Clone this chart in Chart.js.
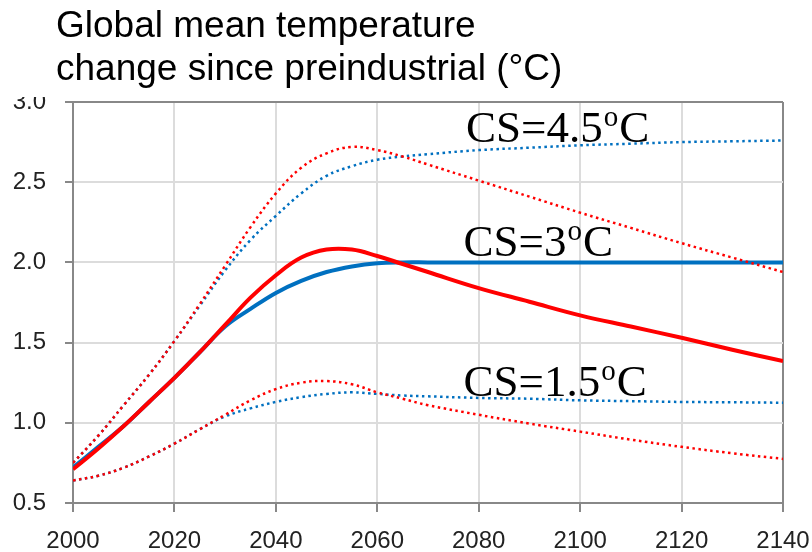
<!DOCTYPE html>
<html>
<head>
<meta charset="utf-8">
<script src="https://cdn.jsdelivr.net/npm/chart.js@4.4.1/dist/chart.umd.min.js"></script>
<style>
  body { margin: 0; background: #fff; }
  #chart { display: block; }
</style>
</head>
<body>
<canvas id="chart" width="812" height="552"></canvas>
<script>
const years = [2000, 2005, 2010, 2015, 2020, 2025, 2030, 2035, 2040, 2045, 2050, 2055,
  2060, 2065, 2070, 2080, 2090, 2100, 2110, 2120, 2130, 2140];

// CS = 3 (solid)
const redMid = [0.71, 0.84, 0.98, 1.13, 1.28, 1.44, 1.61, 1.78, 1.92, 2.03, 2.08, 2.08,
  2.04, 1.99, 1.94, 1.84, 1.755, 1.67, 1.60, 1.53, 1.455, 1.385];
const blueMid = [0.72, 0.85, 0.98, 1.13, 1.28, 1.44, 1.60, 1.71, 1.81, 1.885, 1.94, 1.975,
  1.995, 2.0, 2.0, 2.0, 2.0, 2.0, 2.0, 2.0, 2.0, 2.0];

// CS = 4.5 (dotted, upper)
const redHigh = [0.75, 0.92, 1.11, 1.30, 1.51, 1.74, 1.98, 2.22, 2.43, 2.59, 2.68, 2.72,
  2.70, 2.66, 2.61, 2.51, 2.41, 2.31, 2.215, 2.12, 2.03, 1.94];
const blueHigh = [0.75, 0.92, 1.11, 1.30, 1.51, 1.73, 1.95, 2.14, 2.29, 2.43, 2.54, 2.60,
  2.64, 2.66, 2.675, 2.70, 2.715, 2.73, 2.74, 2.75, 2.755, 2.76];

// CS = 1.5 (dotted, lower)
const redLow = [0.64, 0.67, 0.72, 0.79, 0.87, 0.96, 1.05, 1.14, 1.21, 1.25, 1.26, 1.24,
  1.19, 1.15, 1.11, 1.05, 0.995, 0.945, 0.895, 0.85, 0.81, 0.775];
const blueLow = [0.64, 0.67, 0.72, 0.79, 0.87, 0.96, 1.04, 1.09, 1.13, 1.16, 1.18, 1.19,
  1.18, 1.17, 1.165, 1.155, 1.15, 1.14, 1.135, 1.13, 1.128, 1.125];

const titleLines = ['Global mean temperature', 'change since preindustrial (\u00B0C)'];

// in-plot labels "CS=x°C": value part, placed in data units (left edge year, baseline value)
const csValues = ['4.5', '3', '1.5'];
const csLabelYears = [2077.5, 2077, 2077];
const csLabelValues = [2.75, 2.04, 1.165];

const RED = '#ff0000';
const BLUE = '#0070c0';

function pts(vals) {
  return years.map((y, i) => ({ x: y, y: vals[i] }));
}

function solid(label, vals, color) {
  return {
    label, data: pts(vals),
    borderColor: color, borderWidth: 4,
    tension: 0.4
  };
}

function dotted(label, vals, color) {
  return {
    label, data: pts(vals),
    borderColor: color, borderWidth: 2.5,
    borderDash: [2.5, 3.5],
    tension: 0.4
  };
}

const overlay = {
  id: 'overlay',
  afterDraw(chart) {
    const c = chart.ctx;
    const xs = chart.scales.x, ys = chart.scales.y;
    c.save();
    // title box sits over the top of the 3.0 label
    c.fillStyle = '#fff';
    c.fillRect(0, 0, chart.width, 97);
    c.fillStyle = '#000';
    c.textBaseline = 'alphabetic';
    c.font = '37px "Liberation Sans", Arial, sans-serif';
    c.fillText(titleLines[0], 56, 37);
    c.fillText(titleLines[1], 56, 80);

    const big = '45px "Liberation Serif", "Times New Roman", serif';
    const small = '29px "Liberation Serif", "Times New Roman", serif';
    csValues.forEach((v, i) => {
      let x = xs.getPixelForValue(csLabelYears[i]);
      const y = ys.getPixelForValue(csLabelValues[i]);
      c.font = big;
      const head = 'CS=' + v;
      c.fillText(head, x, y);
      x += c.measureText(head).width + 1;
      c.font = small;
      c.fillText('o', x, y - 16);
      x += c.measureText('o').width + 1;
      c.font = big;
      c.fillText('C', x, y);
    });
    c.restore();
  }
};

new Chart(document.getElementById('chart'), {
  type: 'line',
  data: {
    datasets: [
      solid('Red CS=3', redMid, RED),
      dotted('Red CS=4.5', redHigh, RED),
      dotted('Red CS=1.5', redLow, RED),
      solid('Blue CS=3', blueMid, BLUE),
      dotted('Blue CS=4.5', blueHigh, BLUE),
      dotted('Blue CS=1.5', blueLow, BLUE)
    ]
  },
  options: {
    responsive: false,
    animation: false,
    layout: { padding: { top: 102, left: 13, right: 29, bottom: 0 } },
    elements: { point: { radius: 0 } },
    plugins: {
      legend: { display: false },
      tooltip: { enabled: false }
    },
    scales: {
      x: {
        type: 'linear',
        min: 2000, max: 2140,
        afterFit: s => { s.height = 49; s.paddingLeft = 0; s.paddingRight = 0; },
        ticks: {
          stepSize: 20,
          padding: 15,
          color: '#222',
          font: { family: '"Liberation Sans", Arial, sans-serif', size: 24 },
          callback: v => String(v)
        },
        grid: {
          color: ctx => ctx.tick && ctx.tick.value === 2140 ? '#888' : '#dcdcdc',
          lineWidth: 2,
          tickLength: 9,
          tickColor: '#888',
          tickWidth: 2
        },
        border: { color: '#888', width: 2 }
      },
      y: {
        min: 0.5, max: 3.0,
        afterFit: s => { s.width = 60; },
        ticks: {
          stepSize: 0.5,
          padding: 19,
          color: '#222',
          font: { family: '"Liberation Sans", Arial, sans-serif', size: 24 },
          callback: v => v.toFixed(1)
        },
        grid: {
          color: ctx => ctx.tick && ctx.tick.value === 3 ? '#888' : '#dcdcdc',
          lineWidth: 2,
          tickLength: 8,
          tickColor: '#888',
          tickWidth: 2
        },
        border: { color: '#888', width: 2 }
      }
    }
  },
  plugins: [overlay]
});
</script>
</body>
</html>
